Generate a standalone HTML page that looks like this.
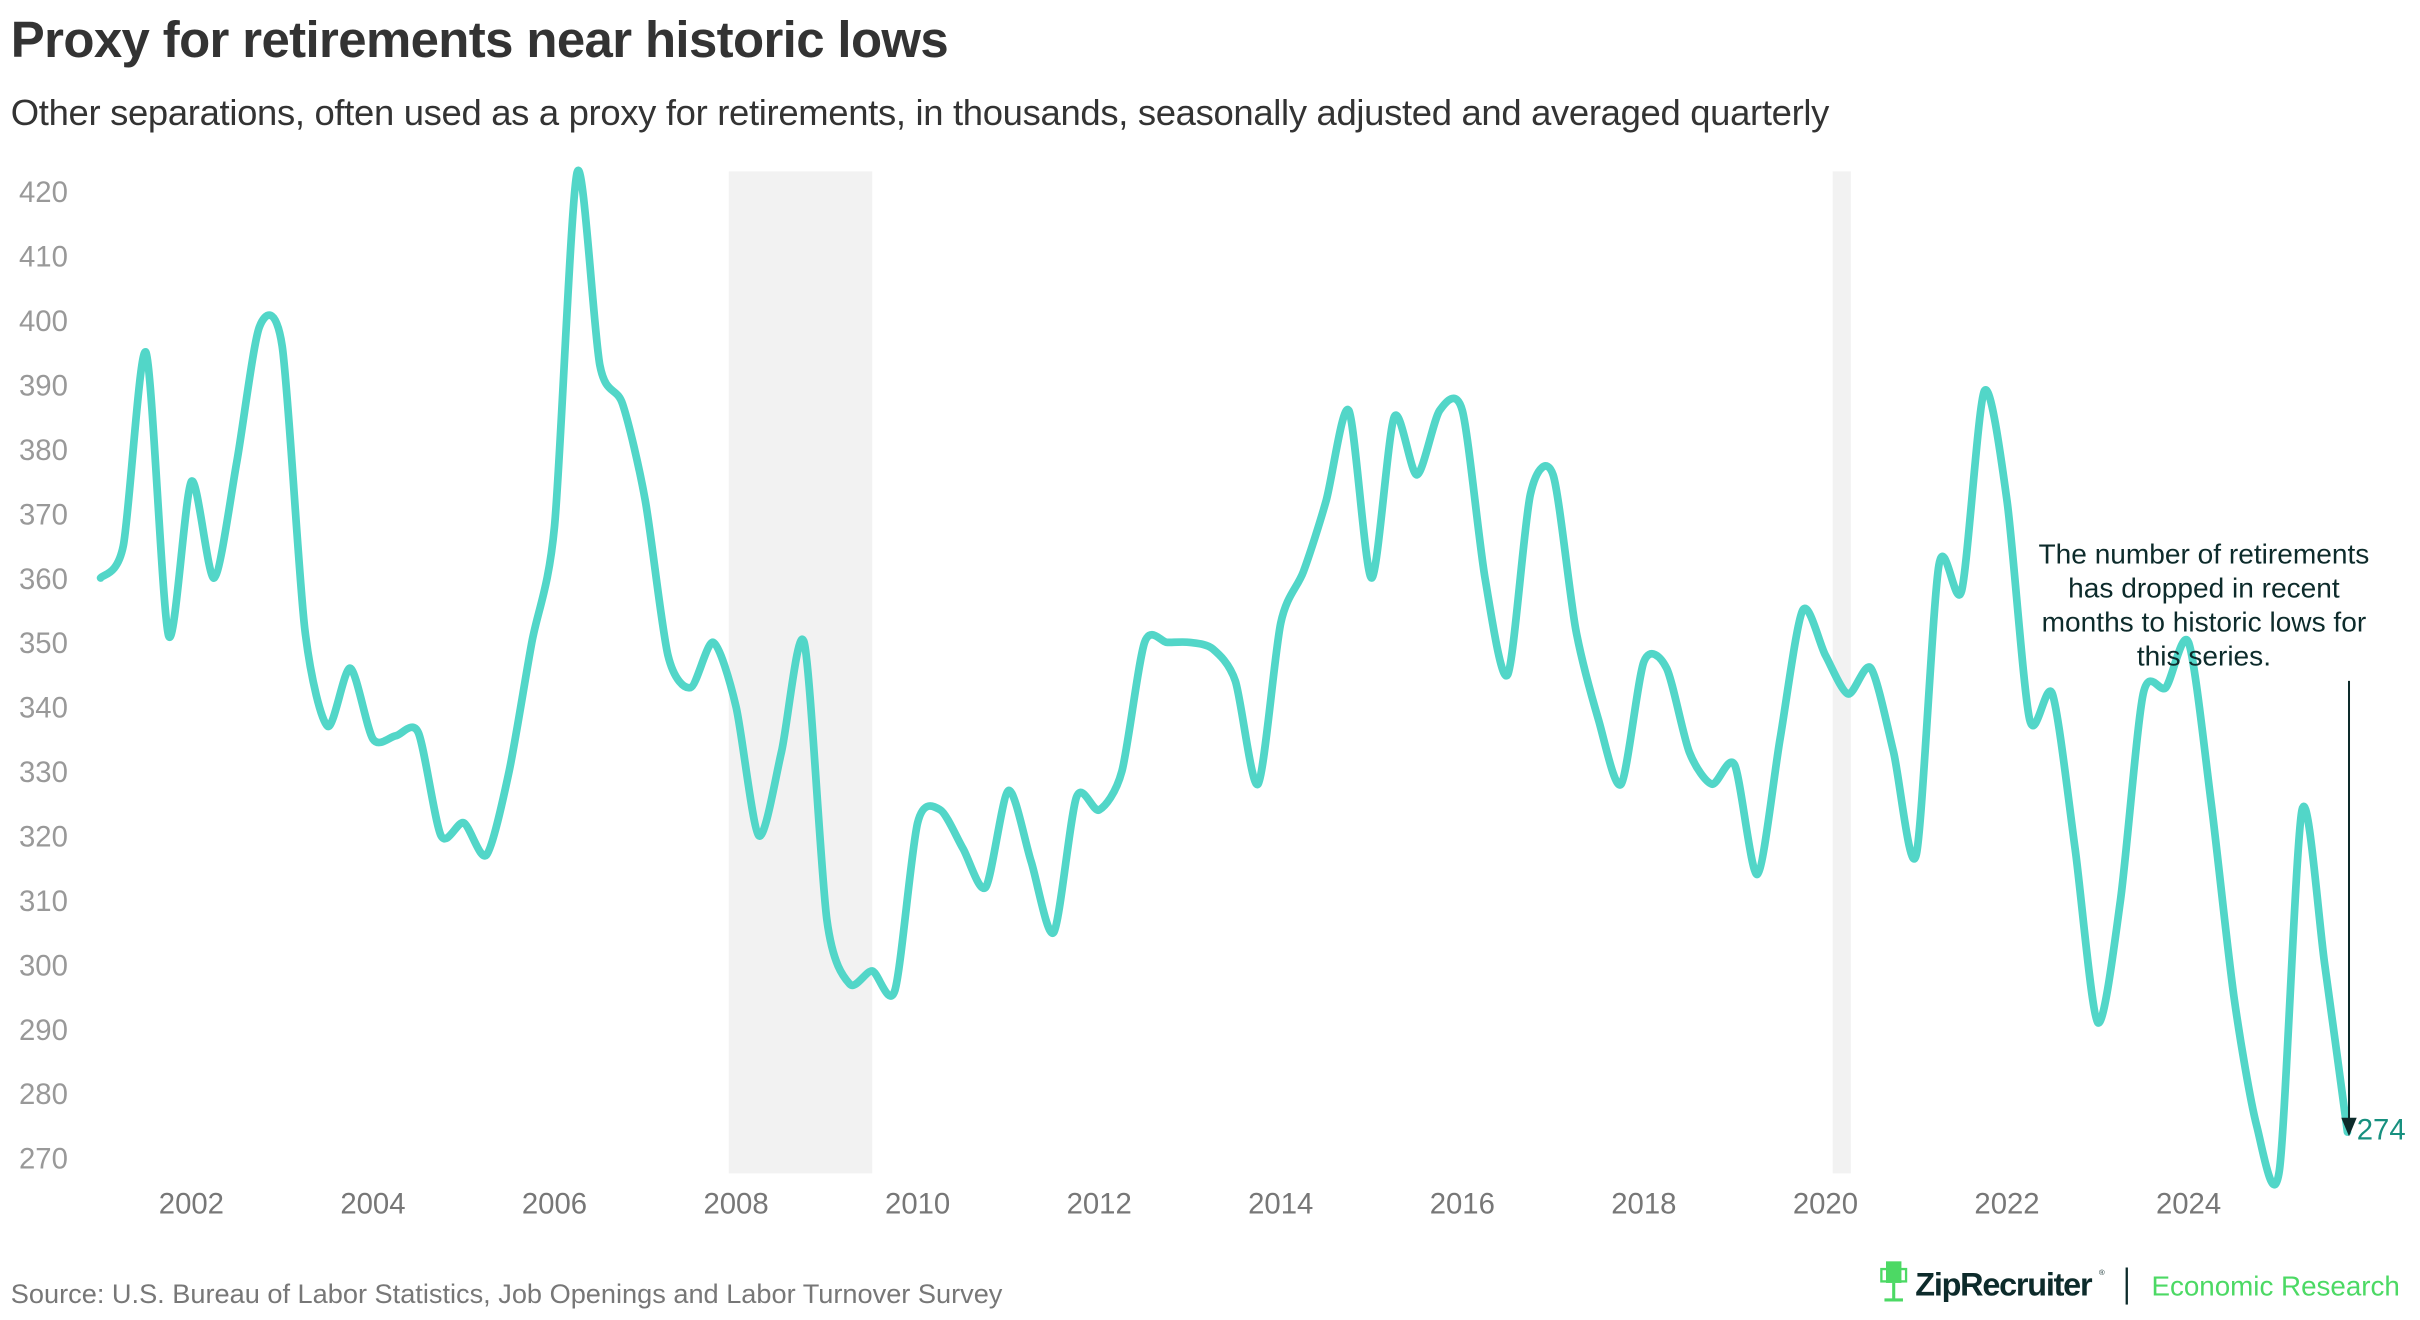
<!DOCTYPE html>
<html><head><meta charset="utf-8"><style>
html,body{margin:0;padding:0;background:#fff;}
svg{display:block;font-family:"Liberation Sans",sans-serif;}
</style></head><body>
<svg id="chart" width="2420" height="1320" viewBox="0 0 1568 855" preserveAspectRatio="none" xmlns="http://www.w3.org/2000/svg">
<text x="7" y="37" font-size="33" font-weight="bold" fill="#333" letter-spacing="-0.4">Proxy for retirements near historic lows</text>
<text x="7" y="81" font-size="23.6" fill="#333" letter-spacing="-0.2">Other separations, often used as a proxy for retirements, in thousands, seasonally adjusted and averaged quarterly</text>
<g id="shades"></g>
<g id="yaxis"></g>
<g id="xaxis"></g>
<path id="series" fill="none" stroke="#52d6c8" stroke-width="5" stroke-linejoin="round" stroke-linecap="round"></path>
<g font-size="18.2" fill="#0d2b2b" text-anchor="middle">
<text x="1428" y="365">The number of retirements</text>
<text x="1428" y="387">has dropped in recent</text>
<text x="1428" y="409">months to historic lows for</text>
<text x="1428" y="431">this series.</text>
</g>
<line x1="1522" y1="441" x2="1522" y2="726" stroke="#0d2b2b" stroke-width="1.3"/>
<polygon points="1517,724 1527,724 1522,736" fill="#0d2b2b"/>
<text id="lastlabel" x="1527" y="738" font-size="19" fill="#17907f">274</text>
<text x="7" y="844" font-size="17.6" fill="#777">Source: U.S. Bureau of Labor Statistics, Job Openings and Labor Turnover Survey</text>
<g>
<rect x="1222" y="817" width="10" height="14" fill="#4cd964"/>
<rect x="1219" y="822" width="16" height="8" fill="none" stroke="#4cd964" stroke-width="1.5"/>
<line x1="1227" y1="831" x2="1227" y2="842" stroke="#4cd964" stroke-width="2"/>
<line x1="1221" y1="842" x2="1233" y2="842" stroke="#4cd964" stroke-width="2"/>
<text x="1241" y="839" font-size="21" font-weight="bold" fill="#0d2b2b" letter-spacing="-0.8">ZipRecruiter</text>
<text x="1360" y="826" font-size="5" fill="#0d2b2b">®</text>
<line x1="1378" y1="821" x2="1378" y2="845" stroke="#0d2b2b" stroke-width="1.5"/>
<text x="1394" y="839" font-size="18" fill="#4cd964">Economic Research</text>
</g>
</svg>
<script>
const yTicks=[270,280,290,300,310,320,330,340,350,360,370,380,390,400,410,420];
const xTickYears=[2002,2004,2006,2008,2010,2012,2014,2016,2018,2020,2022,2024];
const recessions=[[2007.92,2009.5],[2020.08,2020.28]];
const startYear=2001.0;
const values=[360,365,395,351,375,360,378,399,396,352,337,346,335,335.5,336,320,322,317,330,350,368,423,393,387,372,348,343,350,340,320,333,350,307,297,299,296,322,324,318,312,327,316,305,326,324,330,350,350,350,349,344,328,353,361,372,386,360,385,376,386,386,360,345,373,376,352,338,328,347,346,333,328,331,314,335,355,348,342,346,333,317,362,358,389,372,338,342,318,291,310,342,343,350,325,295,275,268,324,300,274];
var NS="http://www.w3.org/2000/svg";
function xs(t){return 124+(t-2002)*58.82;}
function ys(v){return 124+(420-v)*4.173;}
var sh=document.getElementById('shades');
recessions.forEach(function(r){
 var el=document.createElementNS(NS,'rect');
 
 
 el.setAttribute('x',xs(r[0]));el.setAttribute('width',xs(r[1])-xs(r[0]));
 el.setAttribute('y',111);el.setAttribute('height',649);el.setAttribute('fill','#f2f2f2');
 sh.appendChild(el);
});
var ya=document.getElementById('yaxis');
yTicks.forEach(function(v){
 var el=document.createElementNS(NS,'text');
 
 
 el.setAttribute('x',44);el.setAttribute('y',ys(v)+7);el.setAttribute('text-anchor','end');
 el.setAttribute('font-size','19');el.setAttribute('fill','#999');
 el.textContent=v;ya.appendChild(el);
});
var xa=document.getElementById('xaxis');
xTickYears.forEach(function(yr){
 var el=document.createElementNS(NS,'text');
 
 
 el.setAttribute('x',xs(yr));el.setAttribute('y',786);el.setAttribute('text-anchor','middle');
 el.setAttribute('font-size','19');el.setAttribute('fill','#777');
 el.textContent=yr;xa.appendChild(el);
});
var pts=values.map(function(v,i){return [xs(startYear+i*0.25),ys(v)];});
var d='M'+pts[0][0]+','+pts[0][1];
var k=7.5;
for(var i=0;i<pts.length-1;i++){
 var p0=pts[Math.max(0,i-1)],p1=pts[i],p2=pts[i+1],p3=pts[Math.min(pts.length-1,i+2)];
 var c1=[p1[0]+(p2[0]-p0[0])/k,p1[1]+(p2[1]-p0[1])/k];
 var c2=[p2[0]-(p3[0]-p1[0])/k,p2[1]-(p3[1]-p1[1])/k];
 d+=' C'+c1[0]+','+c1[1]+' '+c2[0]+','+c2[1]+' '+p2[0]+','+p2[1];
}
document.getElementById('series').setAttribute('d',d);
document.getElementById('lastlabel').textContent=Math.round(values[values.length-1]);
</script>
</body></html>
